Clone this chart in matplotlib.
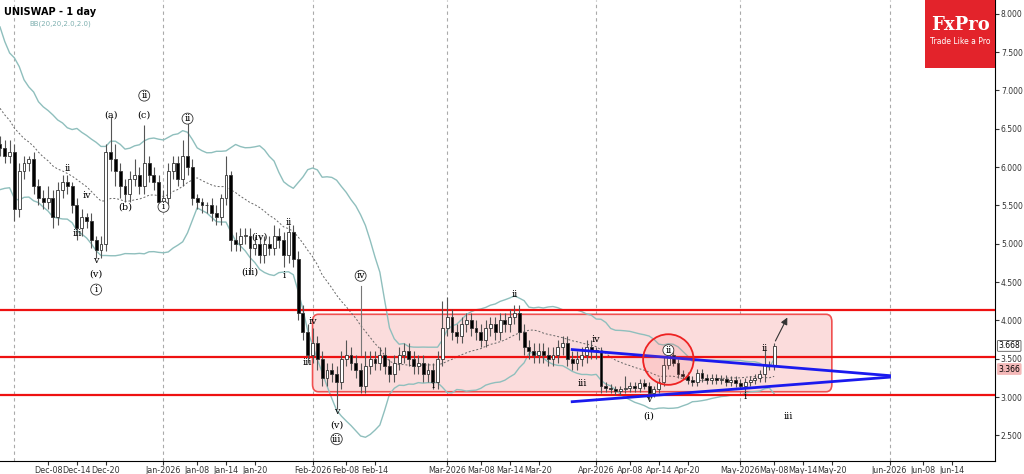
import numpy as np
import pandas as pd
import matplotlib
matplotlib.use("Agg")
import matplotlib.pyplot as plt
import matplotlib.dates as mdates
from matplotlib.patches import FancyBboxPatch, Rectangle, Ellipse

pre_closes = [7.9,7.6,7.5,7.3,7.4,7.0,6.9,7.1,6.8,6.6,6.7,6.5,6.3,6.4,6.2,6.1,6.3,6.2,6.3]
closes = ([6.25,6.15,6.2] +
  [5.45,5.95,6.05,6.1,5.75,5.6,5.55,5.6,5.35,5.7,5.8,5.75,5.5,5.2,5.35,5.3,5.05,4.92,5.0,6.2,6.1,5.95,5.75,5.65,5.85,5.9,5.75,6.05,5.9,5.8,5.55] +
  [5.6,5.95,6.05,5.85,6.15,6.0,5.6,5.55,5.5,5.5,5.4,5.35,5.6,5.9,5.05,5.0,5.1,5.1,4.95,5.0,4.85,5.0,4.95,5.1,5.05,4.85,5.15,4.8,4.1,3.85,3.55] +
  [3.7,3.5,3.25,3.35,3.3,3.2,3.5,3.55,3.45,3.35,3.15,3.4,3.5,3.45,3.55,3.4,3.3,3.45,3.55,3.6,3.5,3.4,3.45,3.3,3.35,3.2,3.5,3.9] +
  [4.05,3.85,3.8,3.95,4.0,3.9,3.85,3.75,3.9,3.95,3.85,4.0,3.95,4.05,4.1,3.85,3.65,3.6,3.55,3.6,3.55,3.5,3.55,3.65,3.7,3.5,3.45,3.5,3.55,3.65,3.6] +
  [3.6,3.15,3.12,3.1,3.08,3.1,3.12,3.15,3.12,3.18,3.15,3.05,3.1,3.2,3.42,3.55,3.45,3.3,3.28,3.22,3.2,3.32,3.25,3.22,3.25,3.22,3.24,3.2,3.22,3.18] +
  [3.15,3.2,3.22,3.25,3.3,3.42,3.4,3.67])
wick_up = ([.1,.1,.15] +
  [.1,.1,.1,.05,.1,.1,.1,.15,.1,.1,.1,.1,.05,.1,.1,.05,.1,.05,.1,.1,.45,.2,.1,.1,.1,.2,.1,.5,.1,.1,.1] +
  [.1,.1,.1,.1,.2,.55,.1,.05,.05,.05,.1,.1,.05,.25,.05,.1,.1,.1,.1,.1,.1,.1,.1,.15,.1,.1,.1,.1,.1,.1,.1] +
  [.2,.1,.1,.1,.1,.1,.1,.2,.1,.1,.1,.2,.1,.1,.1,.1,.1,.1,.1,.1,.1,.1,.1,.1,.1,.1,.1,.35] +
  [.25,.1,.1,.1,.1,.1,.1,.1,.1,.1,.1,.1,.1,.1,.1,.1,.1,.1,.1,.1,.1,.1,.1,.1,.1,.1,.1,.1,.1,.1,.1] +
  [.05,.05,.05,.05,.05,.05,.15,.05,.05,.05,.05,.05,.05,.05,.1,.1,.05,.05,.05,.05,.05,.05,.05,.05,.05,.05,.05,.05,.05,.05] +
  [.05,.05,.05,.05,.05,.2,.05,.03])
wick_dn = ([.1,.1,.1] +
  [.15,.1,.1,.1,.1,.1,.1,.1,.15,.1,.1,.1,.1,.15,.1,.1,.1,.1,.1,.1,.15,.2,.15,.1,.1,.1,.1,.1,.1,.1,.1] +
  [.1,.1,.1,.1,.1,.1,.1,.1,.1,.1,.1,.1,.1,.1,.15,.1,.1,.1,.35,.1,.1,.1,.1,.1,.1,.15,.1,.1,.1,.1,.1] +
  [.1,.15,.1,.1,.1,.35,.1,.1,.1,.1,.1,.1,.1,.1,.1,.1,.1,.1,.1,.1,.1,.1,.1,.1,.1,.1,.1,.1] +
  [.1,.1,.1,.1,.1,.1,.1,.1,.1,.1,.1,.1,.1,.1,.1,.1,.1,.1,.1,.1,.1,.1,.1,.1,.1,.1,.1,.1,.1,.1,.1] +
  [.1,.1,.05,.05,.05,.05,.05,.05,.05,.05,.05,.08,.05,.05,.05,.05,.05,.05,.05,.05,.05,.05,.05,.05,.05,.05,.05,.05,.05,.05] +
  [.05,.1,.05,.05,.05,.1,.05,.05])

levels = [4.13, 3.52, 3.03]
tick_labels = ["Dec-08","Dec-14","Dec-20","Jan-2026","Jan-08","Jan-14","Jan-20","Feb-2026","Feb-08","Feb-14",
               "Mar-2026","Mar-08","Mar-14","Mar-20","Apr-2026","Apr-08","Apr-14","Apr-20","May-2026","May-08",
               "May-14","May-20","Jun-2026","Jun-08","Jun-14"]
tick_dates = ["2025-12-08","2025-12-14","2025-12-20","2026-01-01","2026-01-08","2026-01-14","2026-01-20","2026-02-01",
              "2026-02-08","2026-02-14","2026-03-01","2026-03-08","2026-03-14","2026-03-20","2026-04-01","2026-04-08",
              "2026-04-14","2026-04-20","2026-05-01","2026-05-08","2026-05-14","2026-05-20","2026-06-01","2026-06-08","2026-06-14"]

all_dates = pd.date_range("2025-11-09", periods=len(pre_closes)+len(closes), freq="D")
allc = pd.Series(pre_closes + closes, index=all_dates)
mid = allc.rolling(20).mean()
sd = allc.rolling(20).std(ddof=0)
up, lo = mid + 2*sd, mid - 2*sd
dates = all_dates[len(pre_closes):]
x = mdates.date2num(dates)
c = np.array(closes)
o = np.concatenate([[pre_closes[-1]], c[:-1]])
h = np.maximum(o, c) + np.array(wick_up)
l = np.minimum(o, c) - np.array(wick_dn)

fig = plt.figure(figsize=(10.24, 4.74), dpi=100)
ax = fig.add_axes([0.0, 0.028, 0.972, 0.972])
d = lambda s: mdates.date2num(pd.Timestamp(s))
ax.set_xlim(d("2025-11-28"), d("2026-06-23"))
ax.set_ylim(2.17, 8.18)

for m in ["2025-12-01","2026-01-01","2026-02-01","2026-03-01","2026-04-01","2026-05-01","2026-06-01"]:
    ax.axvline(d(m), color="#aaaaaa", ls=(0,(3,3)), lw=0.8, zorder=0)

ax.add_patch(FancyBboxPatch((d("2026-02-01"), 3.07), d("2026-05-20")-d("2026-02-01"), 1.01,
             boxstyle="round,pad=0,rounding_size=1.2", fc="#fbdcdc", ec="#f05050", lw=1.2, zorder=1, mutation_aspect=0.08))

bx = mdates.date2num(up.index)
ax.plot(bx, up.values, color="#8fbfbd", lw=1, zorder=2)
ax.plot(bx, lo.values, color="#8fbfbd", lw=1, zorder=2)
ax.plot(bx, mid.values, color="#666666", lw=0.7, ls=(0,(2,2)), zorder=2)

for L in levels:
    ax.axhline(L, color="#ee1111", lw=1.6, zorder=3)

w = 0.6
for xi, oi, hi, li, ci in zip(x, o, h, l, c):
    ax.vlines(xi, li, hi, color="#555555", lw=0.8, zorder=4)
    bull = ci >= oi
    ax.add_patch(Rectangle((xi-w/2, min(oi, ci)), w, max(abs(ci-oi), 0.01),
                 fc="white" if bull else "black", ec="#333333", lw=0.6, zorder=5))

ax.plot([d("2026-03-27"), d("2026-06-01")], [3.62, 3.28], color="#1a1aee", lw=2, zorder=6)
ax.plot([d("2026-03-27"), d("2026-06-01")], [2.94, 3.26], color="#1a1aee", lw=2, zorder=6)
ax.add_patch(Ellipse((d("2026-04-16"), 3.49), 10.5, 0.66, fc=(1, 0.4, 0.4, 0.15), ec="#ee2222", lw=1.3, zorder=6))
ax.annotate("", xy=(d("2026-05-11"), 4.07), xytext=(d("2026-05-08"), 3.7),
            arrowprops=dict(arrowstyle="-|>", color="#333333", lw=0.8), zorder=7)

serif = dict(family="DejaVu Serif", fontsize=7, ha="center", zorder=8)
circ = dict(boxstyle="circle,pad=0.1", fc="white", ec="#333333", lw=0.6)
notes = [("2025-12-21",6.65,"(a)",False),("2025-12-28",6.9,"ii",True),("2025-12-28",6.65,"(c)",False),
         ("2025-12-24",5.45,"(b)",False),("2026-01-01",5.45,"i",True),("2026-01-06",6.6,"ii",True),
         ("2026-01-21",5.05,"(iv)",False),("2026-01-19",4.6,"(iii)",False),("2025-12-12",5.95,"ii",False),
         ("2025-12-09",5.35,"i",False),("2025-12-14",5.1,"iii",False),("2025-12-16",5.6,"iv",False),
         ("2025-12-18",4.75,"v",False),("2025-12-18",4.57,"(v)",False),("2025-12-18",4.37,"i",True),
         ("2026-01-26",4.55,"i",False),("2026-01-27",5.25,"ii",False),("2026-01-31",3.42,"iii",False),
         ("2026-02-01",3.95,"iv",False),("2026-02-06",2.78,"v",False),("2026-02-06",2.6,"(v)",False),
         ("2026-02-06",2.42,"iii",True),("2026-02-11",4.55,"iv",True),("2026-02-26",3.12,"i",False),
         ("2026-03-15",4.3,"ii",False),("2026-03-29",3.15,"iii",False),("2026-04-01",3.72,"iv",False),
         ("2026-04-12",2.93,"v",False),("2026-04-12",2.72,"(i)",False),("2026-04-16",3.58,"ii",True),
         ("2026-05-02",2.98,"i",False),("2026-05-06",3.6,"ii",False),("2026-05-11",2.72,"iii",False)]
for ds, yv, t, cc in notes:
    ax.text(d(ds), yv, t, bbox=circ if cc else None, **serif)
ax.plot([d("2026-02-11"), d("2026-02-11")], [3.55, 4.45], color="#777777", lw=0.8, zorder=4)

ax.yaxis.tick_right()
ax.set_yticks(np.arange(2.5, 8.01, 0.5))
ax.yaxis.set_major_formatter(matplotlib.ticker.FormatStrFormatter("%.3f"))
ax.set_xticks([d(s) for s in tick_dates])
ax.set_xticklabels(tick_labels)
ax.tick_params(axis="x", labelsize=5.8, colors="#333333", length=3, pad=1)
ax.tick_params(axis="y", labelsize=5.5, colors="#333333", length=3, pad=1)
for sp in ["top", "left"]:
    ax.spines[sp].set_visible(False)
ax.text(1.003, 3.668, "3.668", transform=ax.get_yaxis_transform(), fontsize=5.5, va="center",
        bbox=dict(boxstyle="round,pad=0.12", fc="white", ec="#555555", lw=0.6))
ax.text(1.003, 3.366, "3.366", transform=ax.get_yaxis_transform(), fontsize=5.5, va="center",
        bbox=dict(boxstyle="round,pad=0.12", fc="#f4b8b8", ec="#f4b8b8", lw=0.6))

ax.text(0.004, 0.985, "UNISWAP - 1 day", transform=ax.transAxes, fontsize=7, fontweight="bold", va="top")
ax.text(0.03, 0.955, "BB(20,20,2.0,2.0)", transform=ax.transAxes, fontsize=5, color="#7fb0b0", va="top")

fig.patches.append(Rectangle((925/1024, 1-68/474), 70/1024, 68/474, transform=fig.transFigure, fc="#e3232b", ec="none"))
fig.text(960/1024, 1-30/474, "FxPro", color="white", fontsize=13, fontweight="bold", ha="center", family="DejaVu Serif")
fig.text(960/1024, 1-44/474, "Trade Like a Pro", color="white", fontsize=5.5, ha="center")

fig.savefig("out.png", dpi=100)
